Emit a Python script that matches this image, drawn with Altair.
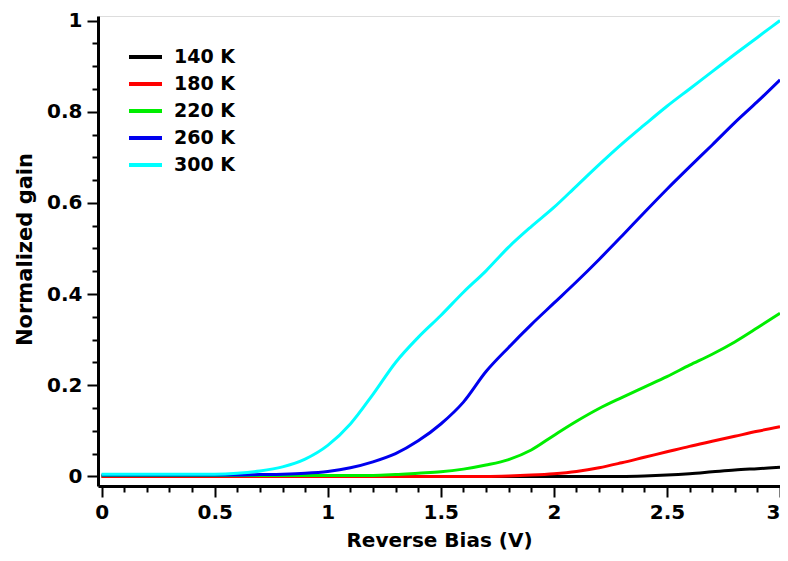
import altair as alt
import pandas as pd

# Reverse bias (V)
bias = [0.0, 0.1, 0.2, 0.3, 0.4, 0.5, 0.6, 0.7, 0.8, 0.9, 1.0,
        1.1, 1.2, 1.3, 1.4, 1.5, 1.6, 1.7, 1.8, 1.9, 2.0,
        2.1, 2.2, 2.3, 2.4, 2.5, 2.6, 2.7, 2.8, 2.9, 3.0]

g140 = [0.0, 0.0, 0.0, 0.0, 0.0, 0.0, 0.0, 0.0, 0.0, 0.0, 0.0,
        0.0, 0.0, 0.0, 0.0, 0.0, 0.0, 0.0, 0.0, 0.0, 0.0,
        0.0, 0.0, 0.0, 0.001, 0.003, 0.006, 0.010, 0.014, 0.017, 0.020]
g180 = [0.0, 0.0, 0.0, 0.0, 0.0, 0.0, 0.0, 0.0, 0.0, 0.0, 0.0,
        0.0, 0.0, 0.0, 0.0, 0.0, 0.0, 0.0, 0.001, 0.003, 0.006,
        0.011, 0.019, 0.030, 0.042, 0.054, 0.066, 0.077, 0.088, 0.099, 0.109]
g220 = [0.002, 0.002, 0.002, 0.002, 0.002, 0.002, 0.002, 0.002, 0.002, 0.002, 0.002,
        0.002, 0.002, 0.004, 0.007, 0.010, 0.016, 0.025, 0.037, 0.058, 0.090,
        0.121, 0.149, 0.173, 0.196, 0.219, 0.244, 0.268, 0.295, 0.326, 0.358]
g260 = [0.003, 0.003, 0.003, 0.003, 0.003, 0.003, 0.003, 0.004, 0.005, 0.007, 0.011,
        0.019, 0.032, 0.050, 0.078, 0.115, 0.163, 0.230, 0.283, 0.333, 0.380,
        0.427, 0.476, 0.527, 0.579, 0.630, 0.679, 0.727, 0.776, 0.822, 0.870]
g300 = [0.005, 0.005, 0.005, 0.005, 0.005, 0.005, 0.007, 0.012, 0.021, 0.038, 0.068,
        0.115, 0.180, 0.250, 0.305, 0.353, 0.404, 0.451, 0.503, 0.548, 0.590,
        0.637, 0.684, 0.729, 0.771, 0.812, 0.850, 0.888, 0.926, 0.963, 1.000]

series_names = ["140 K", "180 K", "220 K", "260 K", "300 K"]
series_values = [g140, g180, g220, g260, g300]
series_colors = ["#000000", "#ff0000", "#00ee00", "#0000ee", "#00ffff"]

x_ticks = [round(i * 0.1, 1) for i in range(31)]
y_ticks = [round(i * 0.05, 2) for i in range(21)]

rows = []
for name, vals in zip(series_names, series_values):
    for xv, yv in zip(bias, vals):
        rows.append({"bias": xv, "gain": yv, "series": name})
df = pd.DataFrame(rows)

FONT = "DejaVu Sans"
xscale = alt.Scale(domain=[-0.016, 3.0], nice=False, zero=False)
yscale = alt.Scale(domain=[-0.021, 1.01], nice=False, zero=False)

x_major_test = "abs(datum.value * 2 - round(datum.value * 2)) < 0.001"
y_major_test = "abs(datum.value * 5 - round(datum.value * 5)) < 0.001"

chart = alt.Chart(df).mark_line(strokeWidth=3, clip=True, interpolate="monotone").encode(
    x=alt.X("bias:Q", scale=xscale,
            axis=alt.Axis(values=x_ticks, format="~g", orient="bottom",
                          labelExpr=f"{x_major_test} ? datum.label : ''",
                          labelAlign={"condition": {"test": "datum.value > 2.95", "value": "right"},
                                      "value": "center"},
                          tickSize={"condition": {"test": x_major_test, "value": 11}, "value": 6},
                          tickWidth=2, tickColor="black", domainColor="black", domainWidth=3,
                          labelFont=FONT, labelFontWeight="bold", labelFontSize=20,
                          labelColor="black", labelPadding=5, grid=False, labelOverlap=False,
                          title="Reverse Bias (V)", titleFont=FONT, titleFontWeight="bold",
                          titleFontSize=20, titleColor="black", titleBaseline="middle",
                          titleY=54, labelFlush=False)),
    y=alt.Y("gain:Q", scale=yscale,
            axis=alt.Axis(values=y_ticks, format="~g", orient="left",
                          labelExpr=f"{y_major_test} ? datum.label : ''",
                          tickSize={"condition": {"test": y_major_test, "value": 11}, "value": 6},
                          tickWidth=2, tickColor="black", domainColor="black", domainWidth=3,
                          labelFont=FONT, labelFontWeight="bold", labelFontSize=20,
                          labelColor="black", labelPadding=5, grid=False, labelOverlap=False,
                          title="Normalized gain", titleFont=FONT, titleFontWeight="bold",
                          titleFontSize=21, titleColor="black", titleBaseline="middle",
                          titleX=-73, titleY=233, labelFlush=False)),
    color=alt.Color("series:N",
                    scale=alt.Scale(domain=series_names, range=series_colors),
                    legend=alt.Legend(title=None, orient="none", legendX=29, legendY=31,
                                      symbolType="stroke", symbolSize=1089,
                                      symbolStrokeWidth=4, labelFont=FONT,
                                      labelFontWeight="bold", labelFontSize=19,
                                      labelColor="black", labelOffset=10,
                                      clipHeight=20, rowPadding=7, padding=0)),
).properties(
    width=682, height=470,
    autosize=alt.AutoSizeParams(type="none"),
    padding={"left": 90, "top": 8, "right": 0, "bottom": 67},
).configure_view(stroke="black", strokeWidth=3).configure(background="white")

chart.save("out.html", embed_options={"renderer": "svg", "actions": False})
